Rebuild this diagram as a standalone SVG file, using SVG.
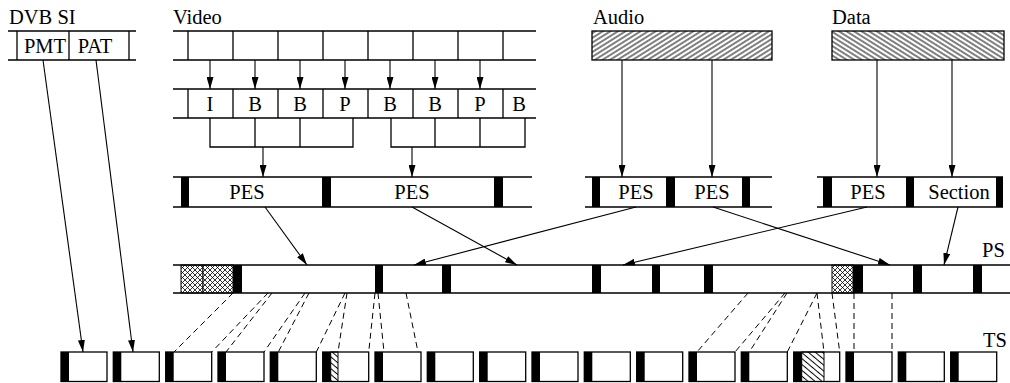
<svg xmlns="http://www.w3.org/2000/svg" width="1010" height="383" viewBox="0 0 1010 383">
<style>
text{font-family:"Liberation Serif","Times New Roman",serif;font-size:20.5px;fill:#000}
.m{text-anchor:middle}
.ln{stroke:#000;stroke-width:1.3;fill:none}
.bx{stroke:#000;stroke-width:1.3;fill:#fff}
.bar{fill:#000}
.ar{stroke:#000;stroke-width:1.1;fill:none;marker-end:url(#ah)}
.da{stroke:#000;stroke-width:1;fill:none;stroke-dasharray:6 4}
</style>
<defs>
<marker id="ah" viewBox="0 0 12 7" refX="12" refY="3.5" markerWidth="12" markerHeight="7" markerUnits="userSpaceOnUse" orient="auto">
<path d="M0,0 L12,3.5 L0,7 z" fill="#000"/>
</marker>
<pattern id="hA" width="4" height="4" patternUnits="userSpaceOnUse" patternTransform="rotate(-32)">
<line x1="0" y1="2" x2="4" y2="2" stroke="#000" stroke-width="1"/>
</pattern>
<pattern id="hD" width="4" height="4" patternUnits="userSpaceOnUse" patternTransform="rotate(32)">
<line x1="0" y1="2" x2="4" y2="2" stroke="#000" stroke-width="1"/>
</pattern>
<pattern id="hT" width="4.5" height="4.5" patternUnits="userSpaceOnUse" patternTransform="rotate(40)">
<line x1="0" y1="2.25" x2="4.5" y2="2.25" stroke="#000" stroke-width="1"/>
</pattern>
<pattern id="xh" width="5" height="5" patternUnits="userSpaceOnUse">
<rect width="5" height="5" fill="#fff"/>
<path d="M0,0 L5,5 M5,0 L0,5" stroke="#000" stroke-width="0.8"/>
</pattern>
</defs>

<g id="dvbsi">
<text x="9" y="24">DVB SI</text>
<path class="ln" d="M8,31 H136 M8,60 H136 M17,31 V60 M69,31 V60 M129,31 V60"/>
<text class="m" x="45" y="53">PMT</text>
<text class="m" x="95" y="53">PAT</text>
</g>

<g id="video">
<text x="173" y="24">Video</text>
<path class="ln" d="M173,31 H536 M173,60 H536 M188,31 V60 M233,31 V60 M278,31 V60 M323,31 V60 M368,31 V60 M413,31 V60 M458,31 V60 M503,31 V60"/>
</g>

<g id="video-frames">
<path class="ln" d="M173,89 H536 M173,118 H536 M188,89 V118 M233,89 V118 M278,89 V118 M323,89 V118 M368,89 V118 M413,89 V118 M458,89 V118 M503,89 V118"/>
<text class="m" x="210" y="111">I</text>
<text class="m" x="255" y="111">B</text>
<text class="m" x="300" y="111">B</text>
<text class="m" x="345" y="111">P</text>
<text class="m" x="390" y="111">B</text>
<text class="m" x="435" y="111">B</text>
<text class="m" x="480" y="111">P</text>
<text class="m" x="519" y="111">B</text>
</g>

<g id="video-pes">
<path class="ln" d="M173,177 H532 M173,207 H532"/>
<rect class="bar" x="181" y="177" width="8" height="30"/>
<rect class="bar" x="322" y="177" width="9" height="30"/>
<rect class="bar" x="494" y="177" width="9" height="30"/>
<text class="m" x="247" y="199">PES</text>
<text class="m" x="412" y="199">PES</text>
</g>

<g id="audio">
<text x="593" y="24">Audio</text>
<rect x="592" y="31" width="180" height="29" fill="url(#hA)" stroke="#000" stroke-width="1.3"/>
</g>

<g id="audio-pes">
<path class="ln" d="M585,177 H772 M585,207 H772"/>
<rect class="bar" x="592" y="177" width="8" height="30"/>
<rect class="bar" x="666" y="177" width="9" height="30"/>
<rect class="bar" x="742" y="177" width="8" height="30"/>
<text class="m" x="636" y="199">PES</text>
<text class="m" x="712" y="199">PES</text>
</g>

<g id="data">
<text x="832" y="24">Data</text>
<rect x="832" y="31" width="172" height="29" fill="url(#hD)" stroke="#000" stroke-width="1.3"/>
</g>

<g id="data-pes">
<path class="ln" d="M817,177 H1003 M817,207 H1003"/>
<rect class="bar" x="823" y="177" width="9" height="30"/>
<rect class="bar" x="906" y="177" width="8" height="30"/>
<rect class="bar" x="996" y="177" width="7" height="30"/>
<text class="m" x="868" y="199">PES</text>
<text class="m" x="959" y="199">Section</text>
</g>

<g id="ps">
<text x="982" y="257">PS</text>
<rect x="181" y="265" width="22" height="28" fill="url(#xh)" stroke="#000" stroke-width="1"/>
<rect x="203" y="265" width="30" height="28" fill="url(#xh)" stroke="#000" stroke-width="1"/>
<rect x="832" y="265" width="21" height="28" fill="url(#xh)" stroke="#000" stroke-width="1"/>
<path class="ln" d="M173,265 H1010 M173,293 H1010"/>
<rect class="bar" x="233" y="265" width="9" height="28"/>
<rect class="bar" x="375" y="265" width="8" height="28"/>
<rect class="bar" x="442" y="265" width="9" height="28"/>
<rect class="bar" x="592" y="265" width="9" height="28"/>
<rect class="bar" x="652" y="265" width="8" height="28"/>
<rect class="bar" x="704" y="265" width="9" height="28"/>
<rect class="bar" x="853" y="265" width="10" height="28"/>
<rect class="bar" x="913" y="265" width="9" height="28"/>
<rect class="bar" x="973" y="265" width="9" height="28"/>
</g>

<g id="ts">
<text x="983" y="347">TS</text>
<g id="ts0"><rect class="bx" x="61" y="352" width="46" height="29.5"/><rect class="bar" x="61" y="352" width="8" height="29.5"/></g>
<g id="ts1"><rect class="bx" x="113.3" y="352" width="46" height="29.5"/><rect class="bar" x="113.3" y="352" width="8" height="29.5"/></g>
<g id="ts2"><rect class="bx" x="165.7" y="352" width="46" height="29.5"/><rect class="bar" x="165.7" y="352" width="8" height="29.5"/></g>
<g id="ts3"><rect class="bx" x="218" y="352" width="46" height="29.5"/><rect class="bar" x="218" y="352" width="8" height="29.5"/></g>
<g id="ts4"><rect class="bx" x="270.3" y="352" width="46" height="29.5"/><rect class="bar" x="270.3" y="352" width="8" height="29.5"/></g>
<g id="ts5"><rect class="bx" x="322.7" y="352" width="46" height="29.5"/><rect x="330.7" y="352" width="7.3" height="29.5" fill="url(#hT)" stroke="#000" stroke-width="1"/><rect class="bar" x="322.7" y="352" width="8" height="29.5"/></g>
<g id="ts6"><rect class="bx" x="375" y="352" width="46" height="29.5"/><rect class="bar" x="375" y="352" width="8" height="29.5"/></g>
<g id="ts7"><rect class="bx" x="427.3" y="352" width="46" height="29.5"/><rect class="bar" x="427.3" y="352" width="8" height="29.5"/></g>
<g id="ts8"><rect class="bx" x="479.7" y="352" width="46" height="29.5"/><rect class="bar" x="479.7" y="352" width="8" height="29.5"/></g>
<g id="ts9"><rect class="bx" x="532" y="352" width="46" height="29.5"/><rect class="bar" x="532" y="352" width="8" height="29.5"/></g>
<g id="ts10"><rect class="bx" x="584.3" y="352" width="46" height="29.5"/><rect class="bar" x="584.3" y="352" width="8" height="29.5"/></g>
<g id="ts11"><rect class="bx" x="636.7" y="352" width="46" height="29.5"/><rect class="bar" x="636.7" y="352" width="8" height="29.5"/></g>
<g id="ts12"><rect class="bx" x="689" y="352" width="46" height="29.5"/><rect class="bar" x="689" y="352" width="8" height="29.5"/></g>
<g id="ts13"><rect class="bx" x="741.3" y="352" width="46" height="29.5"/><rect class="bar" x="741.3" y="352" width="8" height="29.5"/></g>
<g id="ts14"><rect class="bx" x="793.7" y="352" width="46" height="29.5"/><rect x="801.7" y="352" width="22.3" height="29.5" fill="url(#hT)" stroke="#000" stroke-width="1"/><rect class="bar" x="793.7" y="352" width="8" height="29.5"/></g>
<g id="ts15"><rect class="bx" x="846" y="352" width="46" height="29.5"/><rect class="bar" x="846" y="352" width="8" height="29.5"/></g>
<g id="ts16"><rect class="bx" x="898.3" y="352" width="46" height="29.5"/><rect class="bar" x="898.3" y="352" width="8" height="29.5"/></g>
<g id="ts17"><rect class="bx" x="950.7" y="352" width="46" height="29.5"/><rect class="bar" x="950.7" y="352" width="8" height="29.5"/></g>
</g>

<g id="connectors">
<path class="ar" d="M210,60 V89"/>
<path class="ar" d="M255,60 V89"/>
<path class="ar" d="M300,60 V89"/>
<path class="ar" d="M345,60 V89"/>
<path class="ar" d="M390,60 V89"/>
<path class="ar" d="M435,60 V89"/>
<path class="ar" d="M480,60 V89"/>
<path class="ln" stroke-width="1" d="M210,118 V147 H353 V118 M255,118 V147 M300,118 V147"/>
<path class="ln" stroke-width="1" d="M391,118 V147 H525 V118 M435,118 V147 M480,118 V147"/>
<path class="ar" d="M263,147 V177"/>
<path class="ar" d="M412,147 V177"/>
<path class="ar" d="M622,60 V177"/>
<path class="ar" d="M712,60 V177"/>
<path class="ar" d="M877,60 V177"/>
<path class="ar" d="M952,60 V177"/>
<path class="ar" d="M265,207 L307,265"/>
<path class="ar" d="M412,207 L517,265"/>
<path class="ar" d="M636,207 L414,265"/>
<path class="ar" d="M713,207 L890,265"/>
<path class="ar" d="M867,207 L623,265"/>
<path class="ar" d="M958,207 L944,265"/>
<path class="ar" d="M43,60 L83,352"/>
<path class="ar" d="M96,60 L133,352"/>
<path class="da" d="M233,293 L174,352"/>
<path class="da" d="M268,293 L211.7,352"/>
<path class="da" d="M272,293 L226,352"/>
<path class="da" d="M305,293 L264,352"/>
<path class="da" d="M309,293 L278.3,352"/>
<path class="da" d="M345,293 L316.3,352"/>
<path class="da" d="M347,293 L338,352"/>
<path class="da" d="M375,293 L368.7,352"/>
<path class="da" d="M378,293 L384,352"/>
<path class="da" d="M406,293 L418,352"/>
<path class="da" d="M748,293 L697,352"/>
<path class="da" d="M785,293 L735,352"/>
<path class="da" d="M787,293 L749.3,352"/>
<path class="da" d="M817,293 L787.3,352"/>
<path class="da" d="M817,293 L824,352"/>
<path class="da" d="M832,293 L839.7,352"/>
<path class="da" d="M854,293 L854,352"/>
<path class="da" d="M892,293 L892,352"/>
</g>
</svg>
